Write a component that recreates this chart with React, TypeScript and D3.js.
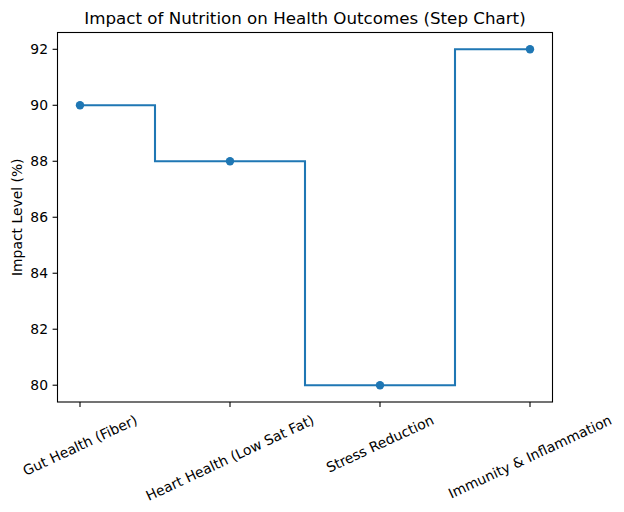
import { useRef, useEffect } from "react";
import * as d3 from "d3";

const categories = [
  "Gut Health (Fiber)",
  "Heart Health (Low Sat Fat)",
  "Stress Reduction",
  "Immunity & Inflammation",
];
const impact = [90, 88, 80, 92];
const yTicks = [80, 82, 84, 86, 88, 90, 92];

const W = 624;
const H = 512;
const BLUE = "#1f77b4";
const FONT = "DejaVu Sans, sans-serif";

export default function App() {
  const svgRef = useRef<SVGSVGElement>(null);

  useEffect(() => {
    document.body.style.margin = "0";
    if (!svgRef.current) return;
    const svg = d3.select(svgRef.current);
    svg.selectAll("*").remove();

    const left = 57.5;
    const right = 552.5;
    const top = 32.5;
    const bottom = 402;

    const x = d3.scaleLinear().domain([-0.15, 3.15]).range([left, right]);
    const y = d3.scaleLinear().domain([79.4, 92.6]).range([bottom, top]);

    svg.append("rect").attr("width", W).attr("height", H).attr("fill", "white");

    // step line (mid)
    const pts = impact.map((v, i) => [i, v] as [number, number]);
    const line = d3
      .line<[number, number]>()
      .x((d) => x(d[0]))
      .y((d) => y(d[1]))
      .curve(d3.curveStep);
    svg
      .append("path")
      .datum(pts)
      .attr("fill", "none")
      .attr("stroke", BLUE)
      .attr("stroke-width", 2.08)
      .attr("d", line);

    svg
      .selectAll("circle.pt")
      .data(pts)
      .join("circle")
      .attr("class", "pt")
      .attr("cx", (d) => x(d[0]))
      .attr("cy", (d) => y(d[1]))
      .attr("r", 4.2)
      .attr("fill", BLUE);

    // frame
    svg
      .append("rect")
      .attr("x", left)
      .attr("y", top)
      .attr("width", right - left)
      .attr("height", bottom - top)
      .attr("fill", "none")
      .attr("stroke", "black")
      .attr("stroke-width", 1.1);

    // y ticks
    const yg = svg.append("g");
    yTicks.forEach((t) => {
      yg.append("line")
        .attr("x1", left - 4.9)
        .attr("x2", left)
        .attr("y1", y(t))
        .attr("y2", y(t))
        .attr("stroke", "black")
        .attr("stroke-width", 1.1);
      yg.append("text")
        .attr("x", left - 9.5)
        .attr("y", y(t))
        .attr("dy", "0.35em")
        .attr("text-anchor", "end")
        .attr("font-family", FONT)
        .attr("font-size", 13.9)
        .attr("fill", "black")
        .text(t);
    });

    // x ticks with rotated labels
    const angle = 25;
    const rad = (angle * Math.PI) / 180;
    categories.forEach((c, i) => {
      const cx = x(i);
      svg
        .append("line")
        .attr("x1", cx)
        .attr("x2", cx)
        .attr("y1", bottom)
        .attr("y2", bottom + 4.9)
        .attr("stroke", "black")
        .attr("stroke-width", 1.1);
      const t = svg
        .append("text")
        .attr("text-anchor", "middle")
        .attr("dy", "0.35em")
        .attr("font-family", FONT)
        .attr("font-size", 13.9)
        .attr("fill", "black")
        .text(c);
      const w = (t.node() as SVGTextElement).getComputedTextLength();
      const lh = 16;
      const bh = w * Math.sin(rad) + lh * Math.cos(rad);
      const cy = bottom + 4.9 + 4.9 + bh / 2;
      t.attr("x", cx)
        .attr("y", cy)
        .attr("transform", `rotate(${-angle},${cx},${cy})`);
    });

    // y label
    svg
      .append("text")
      .attr("transform", `translate(17,${(top + bottom) / 2}) rotate(-90)`)
      .attr("text-anchor", "middle")
      .attr("dy", "0.35em")
      .attr("font-family", FONT)
      .attr("font-size", 13.9)
      .attr("fill", "black")
      .text("Impact Level (%)");

    // title
    svg
      .append("text")
      .attr("x", (left + right) / 2)
      .attr("y", 18)
      .attr("dy", "0.35em")
      .attr("text-anchor", "middle")
      .attr("font-family", FONT)
      .attr("font-size", 16.7)
      .attr("fill", "black")
      .text("Impact of Nutrition on Health Outcomes (Step Chart)");
  }, []);

  return <svg ref={svgRef} width={W} height={H} style={{ display: "block" }} />;
}
